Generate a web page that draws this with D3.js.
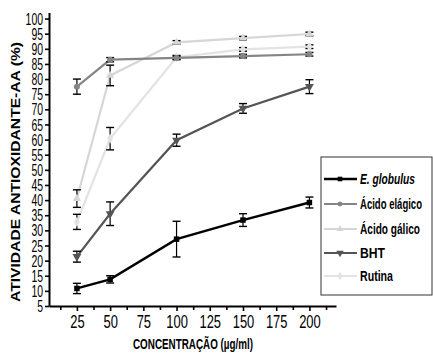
<!DOCTYPE html>
<html>
<head>
<meta charset="utf-8">
<script src="https://cdn.jsdelivr.net/npm/d3@7"></script>
<style>
  body { margin: 0; background: #fff; }
  svg { display: block; font-family: "Liberation Sans", Arial, sans-serif; }
</style>
</head>
<body>
<div id="chart"></div>
<script>
// concentrations (µg/ml)
const concentrations = [25, 50, 100, 150, 200];

// mean activity (%) and error per series
const eGlobulus = [10.8, 13.8, 27.1, 33.4, 39.2];
const eGlobulusErr = [1.7, 1.2, 5.9, 2.1, 1.8];
const acidoElagico = [77.5, 86.4, 87.0, 87.6, 88.2];
const acidoElagicoErr = [2.5, 0.7, 0.6, 0.6, 0.6];
const acidoGalico = [40.5, 81.2, 92.1, 93.5, 94.9];
const acidoGalicoErr = [2.9, 3.4, 0.6, 0.6, 0.6];
const bht = [21.3, 35.5, 59.8, 70.3, 77.5];
const bhtErr = [1.8, 3.9, 2.0, 1.6, 2.3];
const rutina = [32.8, 60.3, 87.2, 89.8, 90.7];
const rutinaErr = [2.5, 3.7, 0.6, 0.6, 0.6];

const seriesNames = ["E. globulus", "Ácido elágico", "Ácido gálico", "BHT", "Rutina"];
const yTicks = d3.range(5, 101, 5);
const xTicks = [25, 50, 75, 100, 125, 150, 175, 200];
const xMinorTicks = d3.range(12.5, 220, 25);

const series = [
  { name: seriesNames[0], values: eGlobulus, err: eGlobulusErr, color: "#000000", width: 2.4, symbol: d3.symbolSquare, size: 30 },
  { name: seriesNames[1], values: acidoElagico, err: acidoElagicoErr, color: "#858585", width: 2.2, symbol: d3.symbolCircle, size: 28 },
  { name: seriesNames[2], values: acidoGalico, err: acidoGalicoErr, color: "#d6d6d6", width: 2.2, symbol: d3.symbolTriangle, size: 30 },
  { name: seriesNames[3], values: bht, err: bhtErr, color: "#555555", width: 2.2, symbol: d3.symbolTriangle, size: 34, flip: true },
  { name: seriesNames[4], values: rutina, err: rutinaErr, color: "#e3e3e3", width: 2.2, symbol: d3.symbolDiamond, size: 30 }
];

// fit a label to a fixed width per character, to mimic a narrow face
function squeeze(sel, perChar) {
  sel.each(function () {
    const n = this.textContent.length;
    d3.select(this).attr("textLength", n * perChar).attr("lengthAdjust", "spacingAndGlyphs");
  });
}

const width = 433, height = 357;
const svg = d3.select("#chart").append("svg")
  .attr("width", width)
  .attr("height", height);

// scales
const x = d3.scaleLinear().domain([4, 220]).range([49, 336]);
const y = d3.scaleLinear().domain([5, 102]).range([306, 12.5]);

// x axis (major + minor ticks)
const xAxisG = svg.append("g")
  .attr("transform", `translate(0,${y(5)})`)
  .call(d3.axisBottom(x).tickValues(xTicks).tickSize(5).tickPadding(4).tickSizeOuter(0));
svg.append("g")
  .attr("transform", `translate(0,${y(5)})`)
  .call(d3.axisBottom(x).tickValues(xMinorTicks).tickSize(4).tickFormat("").tickSizeOuter(0))
  .select(".domain").remove();

// y axis
const yAxisG = svg.append("g")
  .attr("transform", `translate(${x(4)},0)`)
  .call(d3.axisLeft(y).tickValues(yTicks).tickSize(4).tickPadding(2).tickSizeOuter(0));

svg.selectAll(".domain").attr("stroke", "#000").attr("stroke-width", 2);
svg.selectAll(".tick line").attr("stroke", "#000").attr("stroke-width", 1.6);
xAxisG.selectAll("text")
  .attr("font-family", null)
  .attr("font-size", 18)
  .attr("fill", "#000")
  .call(squeeze, 7.2);
yAxisG.selectAll("text")
  .attr("font-family", null)
  .attr("font-size", 16.5)
  .attr("dy", "0.34em")
  .attr("fill", "#000")
  .call(squeeze, 5.8);

// axis titles
svg.append("text")
  .attr("x", 193).attr("y", 349)
  .attr("text-anchor", "middle")
  .attr("font-size", 15).attr("font-weight", "bold")
  .attr("textLength", 120).attr("lengthAdjust", "spacingAndGlyphs")
  .text("CONCENTRAÇÃO (µg/ml)");

svg.append("text")
  .attr("transform", "translate(20,172) rotate(-90)")
  .attr("text-anchor", "middle")
  .attr("font-size", 13).attr("font-weight", "bold")
  .attr("textLength", 260).attr("lengthAdjust", "spacingAndGlyphs")
  .text("ATIVIDADE ANTIOXIDANTE-AA (%)");

// lines (drawn so the black series sits on top)
const line = d3.line().x((d, i) => x(concentrations[i])).y(d => y(d));
const drawOrder = [4, 2, 1, 3, 0];

drawOrder.forEach(k => {
  const s = series[k];
  const g = svg.append("g");
  g.append("path")
    .attr("d", line(s.values))
    .attr("fill", "none")
    .attr("stroke", s.color)
    .attr("stroke-width", s.width);

  // error bars
  const eb = g.selectAll(".eb").data(s.values).join("g");
  eb.append("line")
    .attr("x1", (d, i) => x(concentrations[i])).attr("x2", (d, i) => x(concentrations[i]))
    .attr("y1", (d, i) => y(d - s.err[i])).attr("y2", (d, i) => y(d + s.err[i]))
    .attr("stroke", "#000").attr("stroke-width", 1.2);
  [-1, 1].forEach(sign => {
    eb.append("line")
      .attr("x1", (d, i) => x(concentrations[i]) - 4).attr("x2", (d, i) => x(concentrations[i]) + 4)
      .attr("y1", (d, i) => y(d + sign * s.err[i])).attr("y2", (d, i) => y(d + sign * s.err[i]))
      .attr("stroke", "#000").attr("stroke-width", 1.4);
  });

  // markers
  g.selectAll(".mk").data(s.values).join("path")
    .attr("d", d3.symbol().type(s.symbol).size(s.size))
    .attr("transform", (d, i) => `translate(${x(concentrations[i])},${y(d)})${s.flip ? " rotate(180)" : ""}`)
    .attr("fill", s.color);
});

// legend
const legend = svg.append("g");
legend.append("rect")
  .attr("x", 321).attr("y", 157)
  .attr("width", 111).attr("height", 138)
  .attr("fill", "#fff")
  .attr("stroke", "#333").attr("stroke-width", 1);

const legendY = [179, 204, 229, 253, 276];
const legendTextLen = [55, 62, 60, 25, 33];
series.forEach((s, i) => {
  const item = legend.append("g").attr("transform", `translate(0,${legendY[i]})`);
  item.append("line")
    .attr("x1", 324).attr("x2", 357)
    .attr("stroke", s.color).attr("stroke-width", s.width);
  item.append("path")
    .attr("d", d3.symbol().type(s.symbol).size(s.size * 0.7))
    .attr("transform", `translate(340,0)${s.flip ? " rotate(180)" : ""}`)
    .attr("fill", s.color);
  item.append("text")
    .attr("x", 360).attr("y", 5)
    .attr("font-size", 15)
    .attr("font-weight", "bold")
    .attr("font-style", i === 0 ? "italic" : "normal")
    .attr("textLength", legendTextLen[i]).attr("lengthAdjust", "spacingAndGlyphs")
    .text(s.name);
});
</script>
</body>
</html>
